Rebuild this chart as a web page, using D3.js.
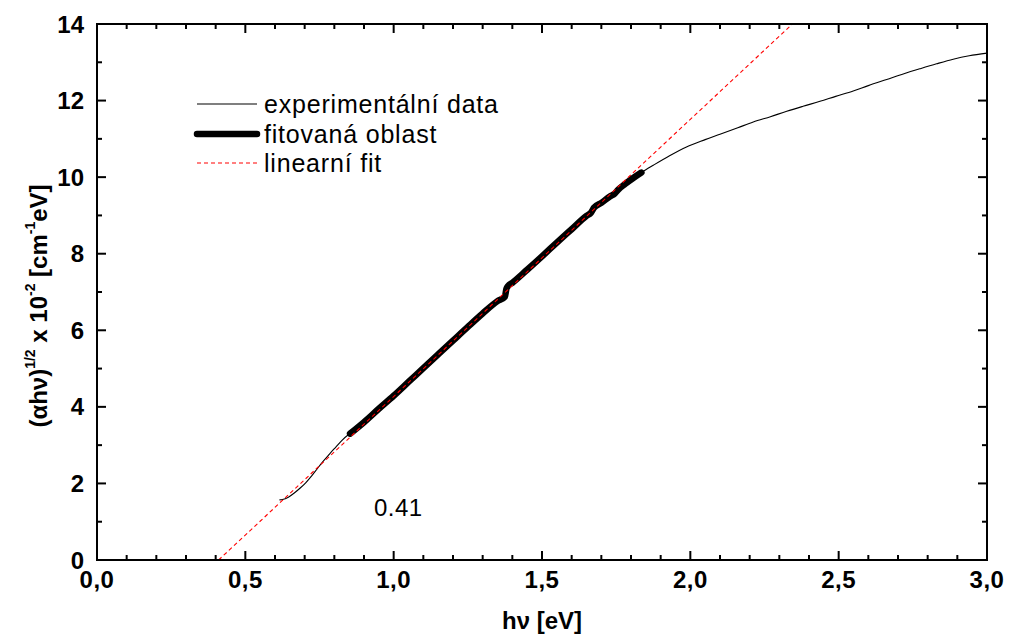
<!DOCTYPE html>
<html><head><meta charset="utf-8">
<script src="https://cdn.jsdelivr.net/npm/d3@7/dist/d3.min.js"></script>
<style>body{margin:0;background:#fff}svg{display:block}text{font-family:"Liberation Sans",Arial,sans-serif}</style>
</head><body><svg id="c" width="1010" height="638"></svg>
<script>
// experimental data below the fitted region
const lowX = [0.615,0.625,0.645,0.665,0.685,0.705,0.725,0.745,0.765,0.785,0.805,0.825,0.845];
const lowY = [1.57,1.58,1.64,1.75,1.88,2.03,2.21,2.41,2.60,2.78,2.95,3.12,3.26];
// fitted region (fitovaná oblast)
const fitX = [0.853,0.90,0.95,1.00,1.05,1.10,1.15,1.20,1.25,1.30,1.35,1.375,1.380,1.386,1.40,1.45,1.50,1.55,1.60,1.65,1.665,1.675,1.70,1.73,1.745,1.755,1.78,1.81,1.835];
const fitY = [3.30,3.60,3.95,4.29,4.65,5.01,5.37,5.73,6.09,6.44,6.76,6.88,7.08,7.16,7.24,7.58,7.93,8.29,8.64,8.99,9.07,9.20,9.33,9.50,9.57,9.66,9.82,9.99,10.12];
// experimental data above the fitted region
const highX = [1.875,1.93,1.987,2.05,2.10,2.16,2.212,2.27,2.325,2.38,2.437,2.49,2.549,2.60,2.662,2.72,2.774,2.83,2.886,2.94,3.0];
const highY = [10.31,10.56,10.79,10.98,11.12,11.29,11.44,11.58,11.72,11.85,11.98,12.11,12.25,12.39,12.55,12.70,12.83,12.96,13.08,13.17,13.24];
// linear fit endpoints
const linX = [0.41, 2.344];
const linY = [0, 14];
const xTicks = [0,0.5,1.0,1.5,2.0,2.5,3.0];
const xTickLabels = ["0,0","0,5","1,0","1,5","2,0","2,5","3,0"];
const yTicks = [0,2,4,6,8,10,12,14];
const legendLabels = ["experimentální data","fitovaná oblast","linearní fit"];
const annotation = "0.41";

const svg = d3.select("#c");
const L=97,R=987,T=24,B=560;
const x = d3.scaleLinear().domain([0,3]).range([L,R]);
const y = d3.scaleLinear().domain([0,14]).range([B,T]);
const line = d3.line().x(d=>x(d[0])).y(d=>y(d[1])).curve(d3.curveMonotoneX);
const zip=(a,b)=>a.map((v,i)=>[v,b[i]]);

svg.append("clipPath").attr("id","pc").append("rect").attr("x",L).attr("y",T).attr("width",R-L).attr("height",B-T);
const g = svg.append("g").attr("clip-path","url(#pc)");

const expPts = zip(lowX,lowY).concat(zip(fitX,fitY)).concat(zip(highX,highY));
g.append("path").attr("d",line(expPts)).attr("fill","none").attr("stroke","#000").attr("stroke-width",1.1);
g.append("path").attr("d",line(zip(fitX,fitY))).attr("fill","none").attr("stroke","#000").attr("stroke-width",6.5).attr("stroke-linecap","round").attr("stroke-linejoin","round");
g.append("path").attr("d",d3.line().x(d=>x(d[0])).y(d=>y(d[1]))(zip(linX,linY))).attr("fill","none").attr("stroke","#ff0000").attr("stroke-width",1.1).attr("stroke-dasharray","4,3");

// axes with inward ticks
const ax = svg.append("g");
const majLen=9, minLen=5;
const xMinor = d3.range(0,31).map(i=>i/10);
const yMinor = d3.range(0,15);
xMinor.forEach(v=>{
  const isMaj = Math.abs(v*2-Math.round(v*2))<1e-6;
  const len = isMaj?majLen:minLen;
  ax.append("line").attr("x1",x(v)).attr("x2",x(v)).attr("y1",B).attr("y2",B-len).attr("stroke","#000").attr("stroke-width",2);
  ax.append("line").attr("x1",x(v)).attr("x2",x(v)).attr("y1",T).attr("y2",T+len).attr("stroke","#000").attr("stroke-width",2);
});
yMinor.forEach(v=>{
  const len = (v%2===0)?majLen:minLen;
  ax.append("line").attr("y1",y(v)).attr("y2",y(v)).attr("x1",L).attr("x2",L+len).attr("stroke","#000").attr("stroke-width",2);
  ax.append("line").attr("y1",y(v)).attr("y2",y(v)).attr("x1",R).attr("x2",R-len).attr("stroke","#000").attr("stroke-width",2);
});
ax.append("rect").attr("x",L).attr("y",T).attr("width",R-L).attr("height",B-T).attr("fill","none").attr("stroke","#000").attr("stroke-width",2);

xTicks.forEach((v,i)=>{
  svg.append("text").attr("x",x(v)).attr("y",B+28).attr("text-anchor","middle").attr("font-weight","bold").attr("font-size",24).attr("letter-spacing",0.5).text(xTickLabels[i]);
});
yTicks.forEach(v=>{
  svg.append("text").attr("x",L-13).attr("y",y(v)+8.5).attr("text-anchor","end").attr("font-weight","bold").attr("font-size",24).text(v);
});

// axis titles
svg.append("text").attr("x",x(1.5)).attr("y",629).attr("text-anchor","middle").attr("font-weight","bold").attr("font-size",24).text("hν [eV]");
const yt = svg.append("text").attr("transform","translate(47,306) rotate(-90)").attr("text-anchor","middle").attr("font-weight","bold").attr("font-size",24);
yt.append("tspan").text("(αhν)");
yt.append("tspan").attr("font-size",14).attr("dy",-12).text("1/2");
yt.append("tspan").attr("dy",12).text(" x 10");
yt.append("tspan").attr("font-size",14).attr("dy",-12).text("-2");
yt.append("tspan").attr("dy",12).text(" [cm");
yt.append("tspan").attr("font-size",14).attr("dy",-12).text("-1");
yt.append("tspan").attr("dy",12).text("eV]");

// legend
const lg = svg.append("g");
const ly=[104,134,163];
lg.append("line").attr("x1",197).attr("x2",257).attr("y1",ly[0]).attr("y2",ly[0]).attr("stroke","#000").attr("stroke-width",1.1);
lg.append("line").attr("x1",197).attr("x2",257).attr("y1",ly[1]).attr("y2",ly[1]).attr("stroke","#000").attr("stroke-width",6.5).attr("stroke-linecap","round");
lg.append("line").attr("x1",197).attr("x2",257).attr("y1",ly[2]).attr("y2",ly[2]).attr("stroke","#ff0000").attr("stroke-width",1.1).attr("stroke-dasharray","4,3");
legendLabels.forEach((t,i)=>{
  lg.append("text").attr("x",264).attr("y",ly[i]+8.5).attr("font-size",25).attr("letter-spacing",0.8).text(t);
});

svg.append("text").attr("x",374).attr("y",516).attr("font-size",24).attr("letter-spacing",0.5).text(annotation);
</script></body></html>
